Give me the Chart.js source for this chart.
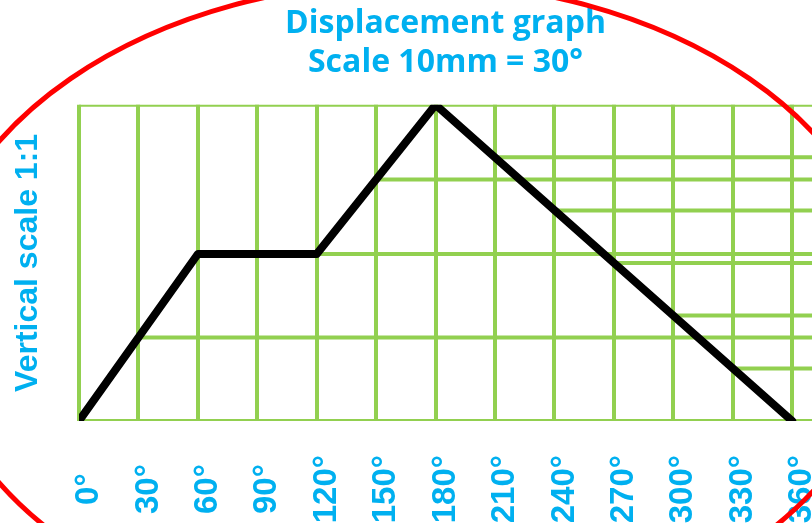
<!DOCTYPE html>
<html>
<head>
<meta charset="utf-8">
<script src="https://cdn.jsdelivr.net/npm/chart.js@4.4.1/dist/chart.umd.min.js"></script>
<style>
  html, body { margin: 0; padding: 0; background: #fff; }
  #wrap { width: 812px; height: 523px; }
</style>
</head>
<body>
<div id="wrap"><canvas id="chart" width="812" height="523"></canvas></div>
<script>
// follower lift (mm) at the key cam angles
const angles = [0, 60, 120, 180, 360];
const lift = [0, 28, 28, 53, 0];

// horizontal projection lines: where they start (deg) and their height (mm)
const rowStart = [0, 0, 30, 60, 150, 210, 240, 270, 300, 330];
const rowLift = [0, 53, 14, 28, 40.5, 44.2, 35.3, 26.5, 17.7, 8.8];

const tickAngles = [0, 30, 60, 90, 120, 150, 180, 210, 240, 270, 300, 330, 360];
const tickLabels = ['0°', '30°', '60°', '90°', '120°', '150°', '180°', '210°', '240°', '270°', '300°', '330°', '360°'];

const xMax = 370; // grid runs off the right edge
const yMax = 53;

const BLUE = '#00b0f0';
const GREEN = '#92d050';

// rotated labels are anchored at their top end; pad short ones a little
const maxLen = Math.max(...tickLabels.map(s => s.length));
const padLabel = s => s + ' '.repeat(maxLen - s.length);

const rows = [];
rowStart.forEach((x, i) => {
  rows.push({ x, y: rowLift[i] }, { x: xMax, y: rowLift[i] }, { x: xMax, y: null });
});

const ring = {
  id: 'ring',
  afterDraw(chart) {
    const ctx = chart.ctx;
    ctx.save();
    ctx.strokeStyle = '#ff0000';
    ctx.lineWidth = 5;
    ctx.beginPath();
    ctx.ellipse(410, 312, 480, 330, 0, 0, Math.PI * 2);
    ctx.stroke();
    ctx.restore();
  }
};

new Chart(document.getElementById('chart').getContext('2d'), {
  type: 'scatter',
  data: {
    datasets: [
      {
        data: angles.map((a, i) => ({ x: a, y: lift[i] })),
        showLine: true,
        borderColor: '#000',
        borderWidth: 8,
        borderCapStyle: 'round',
        borderJoinStyle: 'round',
        pointRadius: 0,
        order: 0
      },
      {
        data: rows,
        showLine: true,
        spanGaps: false,
        borderColor: GREEN,
        borderWidth: 4,
        pointRadius: 0,
        order: 1
      }
    ]
  },
  options: {
    responsive: false,
    animation: false,
    layout: { padding: 0 },
    plugins: {
      legend: { display: false },
      tooltip: { enabled: false },
      title: {
        display: true,
        fullSize: false,
        text: ['Displacement graph', 'Scale 10mm = 30°'],
        color: BLUE,
        font: { family: '"Open Sans", sans-serif', size: 32, weight: 'bold', lineHeight: 1.2 },
        padding: { top: 5, bottom: 23 }
      }
    },
    scales: {
      x: {
        type: 'linear',
        min: 0,
        max: xMax,
        afterBuildTicks: s => { s.ticks = tickAngles.map(v => ({ value: v })); },
        afterFit: s => { s.height = 102; s.paddingLeft = 0; s.paddingRight = 0; },
        ticks: {
          autoSkip: false,
          minRotation: 90,
          maxRotation: 90,
          padding: 34,
          labelOffset: 10,
          color: BLUE,
          font: { family: '"Liberation Sans", Arial, sans-serif', size: 33, weight: 'bold' },
          callback: v => padLabel(tickLabels[tickAngles.indexOf(v)])
        },
        grid: { color: GREEN, lineWidth: 4, drawTicks: false },
        border: { display: false }
      },
      y: {
        min: 0,
        max: yMax,
        afterFit: s => { s.width = 79; s.paddingTop = 0; s.paddingBottom = 0; },
        ticks: { display: false },
        grid: { display: false, drawTicks: false },
        border: { display: false },
        title: {
          display: true,
          text: 'Vertical scale 1:1',
          color: BLUE,
          font: { family: '"Liberation Sans", Arial, sans-serif', size: 32, weight: 'bold', lineHeight: 1.2 },
          padding: { top: 9, bottom: 32 }
        }
      }
    }
  },
  plugins: [ring]
});
</script>
</body>
</html>
